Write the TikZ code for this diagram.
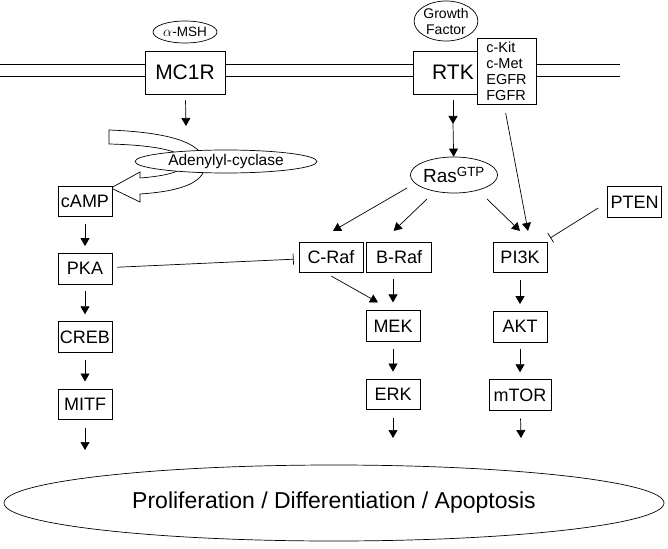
\documentclass[tikz,border=0pt]{standalone}
\usepackage{fontspec}
\setmainfont{Liberation Sans}
\usetikzlibrary{shapes,arrows.meta,positioning,calc}

\begin{document}
\begin{tikzpicture}[
  x=1pt, y=-1pt,
  line width=0.7pt,
  box/.style={rectangle, draw, fill=white, inner xsep=2pt, inner ysep=0pt,
    minimum width=54pt, minimum height=30.5pt, font=\fontsize{18}{20}\selectfont},
  receptor/.style={box, minimum width=80pt, minimum height=43pt,
    font=\fontsize{21}{24}\selectfont},
  oval/.style={ellipse, draw, fill=white, inner sep=0pt},
  arr/.style={-{Triangle[length=8pt,width=9pt]}},
  inh/.style={-{Bar[width=11pt]}},
]
  \useasboundingbox (0,0) rectangle (668,548);

  % Membrane
  \draw (0,64) -- (620,64);
  \draw (0,76) -- (620,76);

  % Receptors and ligands
  \node[receptor] (mc1r) at (185,72.5) {MC1R};
  \node[oval, minimum width=64pt, minimum height=22pt,
    font=\fontsize{13.5}{15}\selectfont] (msh) at (185,32) {$\alpha$-MSH};
  \node[receptor] (rtk) at (453,72.5) {RTK};
  \node[box, minimum width=59pt, minimum height=66pt, align=left,
    inner xsep=4pt, font=\fontsize{14.5}{16}\selectfont] (rlist) at (506.5,71)
    {c-Kit\\c-Met\\EGFR\\FGFR};
  \node[oval, minimum width=60pt, minimum height=40pt, align=center,
    font=\fontsize{14}{16}\selectfont] (gf) at (446,21) {Growth\\Factor};

  % cAMP branch
  \draw[fill=white] (109,130) .. controls (160,132) and (205,140) .. (205,165)
    .. controls (205,186) and (170,192) .. (140,194) -- (140,202) -- (111,188)
    -- (140,172) -- (140,178) .. controls (165,176) and (185,172) .. (185,162)
    .. controls (185,150) and (150,145) .. (109,144) -- cycle;
  \node[oval, minimum width=182pt, minimum height=23pt,
    font=\fontsize{15.5}{17}\selectfont] (adcy) at (226,161.5) {Adenylyl-cyclase};
  \node[box] (camp) at (85,201.5) {cAMP};
  \node[box, below=36pt of camp] (pka) {PKA};
  \node[box, below=37pt of pka] (creb) {CREB};
  \node[box, below=36pt of creb] (mitf) {MITF};

  % MAPK and PI3K branches
  \node[oval, minimum width=82pt, minimum height=36pt,
    font=\fontsize{19}{21}\selectfont] (ras) at (454,175) {Ras\textsuperscript{GTP}};
  \node[box, minimum width=64pt] (craf) at (331,257.5) {C-Raf};
  \node[box, minimum width=65pt, right=3pt of craf] (braf) {B-Raf};
  \node[box] (mek) at (393,326) {MEK};
  \node[box, below=37pt of mek] (erk) {ERK};
  \node[box] (pi3k) at (520,257.5) {PI3K};
  \node[box, below=38pt of pi3k] (akt) {AKT};
  \node[box, minimum width=62pt, below=37pt of akt] (mtor) {mTOR};
  \node[box] (pten) at (634.5,202) {PTEN};

  % Outcome
  \node[oval, minimum width=660pt, minimum height=76pt,
    font=\fontsize{23}{26}\selectfont] (fate) at (334,503)
    {Proliferation / Differentiation / Apoptosis};

  % Free arrow ends
  \coordinate (mc1rend) at (186,126);
  \coordinate (rtkmid) at (453,124);
  \coordinate (mitfend) at (85,450);
  \coordinate (erkend) at (393,438);
  \coordinate (mtorend) at (521,438);

  % Arrows
  \draw[arr, shorten <=6pt] (mc1r) -- (mc1rend);
  \draw[arr, shorten <=6pt] (rtk) -- (rtkmid);
  \draw[arr] (rtkmid) -- (ras);
  \draw[arr, shorten <=9pt] ([xshift=-2.5pt]rlist.south) -- ([shift={(8,-11)}]pi3k.north);
  \draw[arr] ([shift={(-47,13)}]ras.center) -- ([shift={(2,-11)}]craf.north);
  \draw[arr] ([shift={(-27,24)}]ras.center) -- ([shift={(-5.5,-11)}]braf.north);
  \draw[arr] ([shift={(33,24)}]ras.center) -- ([shift={(0,-11)}]pi3k.north);
  \draw[arr, shorten <=6pt] ([xshift=-5pt]craf.south) -- ([shift={(-15,-8)}]mek.north);
  \draw[arr, shorten <=6pt, shorten >=8pt] (braf.south -| mek) -- (mek);

  \foreach \a/\b in {camp/pka, pka/creb, creb/mitf, mek/erk, pi3k/akt, akt/mtor}
    \draw[arr, shorten <=7pt, shorten >=7pt] (\a) -- (\b);
  \foreach \a in {mitf, erk, mtor}
    \draw[arr, shorten <=8pt] (\a) -- (\a end);

  % Inhibitions
  \draw[inh, shorten <=5pt, shorten >=5pt] (pka) -- (craf);
  \draw[inh] ([shift={(-9,6)}]pten.west) -- ([shift={(3,-4)}]pi3k.north east);
\end{tikzpicture}
\end{document}
